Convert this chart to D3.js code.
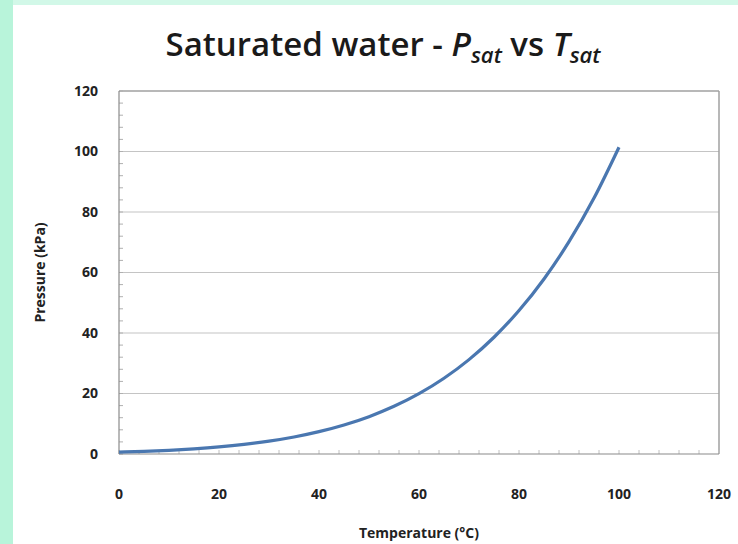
<!DOCTYPE html>
<html><head><meta charset="utf-8">
<script src="https://cdn.jsdelivr.net/npm/d3@7"></script>
<style>body{margin:0;background:#fff;}svg{display:block;}</style>
</head><body>
<svg id="c" width="738" height="544"></svg>
<script>
const temps = [0.01,5,10,15,20,25,30,35,40,45,50,55,60,65,70,75,80,85,90,95,100];
const pressures = [0.6117,0.8725,1.2281,1.7057,2.3392,3.1698,4.2469,5.6291,7.3851,9.5953,12.352,15.763,19.947,25.043,31.202,38.597,47.416,57.868,70.183,84.609,101.42];
const xTicks = [0,20,40,60,80,100,120];
const yTicks = [0,20,40,60,80,100,120];

const svg = d3.select("#c");
const W=738,H=544;
svg.append("rect").attr("width",W).attr("height",H).attr("fill","#fff");
svg.append("rect").attr("x",0).attr("y",0).attr("width",W).attr("height",5).attr("fill","#d2f8e8");
svg.append("rect").attr("x",0).attr("y",0).attr("width",13).attr("height",H).attr("fill","#b8f4da");

const m={l:119,r:719,t:91,b:454};
const x=d3.scaleLinear().domain([0,120]).range([m.l,m.r]);
const y=d3.scaleLinear().domain([0,120]).range([m.b,m.t]);
const font="'Open Sans', Lato, sans-serif";

// gridlines
svg.append("g").selectAll("line").data(yTicks.filter(d=>d>0)).join("line")
 .attr("x1",m.l).attr("x2",m.r).attr("y1",d=>y(d)).attr("y2",d=>y(d))
 .attr("stroke",d=>d===120?"#a0a0a0":"#c4c4c4").attr("stroke-width",d=>d===120?1.5:1.2);
// right border
svg.append("line").attr("x1",m.r).attr("x2",m.r).attr("y1",m.t).attr("y2",m.b).attr("stroke","#a0a0a0").attr("stroke-width",1.5);

// minor ticks
const minor=d3.range(0,121,4);
svg.append("g").selectAll("line").data(minor).join("line")
 .attr("x1",m.l).attr("x2",m.l+4).attr("y1",d=>y(d)).attr("y2",d=>y(d)).attr("stroke","#b0b0b0");
svg.append("g").selectAll("line").data(minor).join("line")
 .attr("y1",m.b).attr("y2",m.b-4).attr("x1",d=>x(d)).attr("x2",d=>x(d)).attr("stroke","#c0c0c0");

// axes lines
svg.append("line").attr("x1",m.l).attr("x2",m.l).attr("y1",m.t).attr("y2",m.b).attr("stroke","#8a8a8a").attr("stroke-width",1.2);
svg.append("line").attr("x1",m.l).attr("x2",m.r).attr("y1",m.b).attr("y2",m.b).attr("stroke","#8a8a8a").attr("stroke-width",1.2);

// tick labels
svg.append("g").selectAll("text").data(yTicks).join("text")
 .attr("x",m.l-21).attr("y",d=>y(d)).attr("dy","0.35em").attr("text-anchor","end")
 .attr("font-family",font).attr("font-weight","bold").attr("font-size",14).attr("fill","#222")
 .text(d=>d);
svg.append("g").selectAll("text").data(xTicks).join("text")
 .attr("x",d=>x(d)).attr("y",m.b+45).attr("text-anchor","middle")
 .attr("font-family",font).attr("font-weight","bold").attr("font-size",14).attr("fill","#222")
 .text(d=>d);

// curve
const line=d3.line().x((d,i)=>x(temps[i])).y((d,i)=>y(pressures[i])).curve(d3.curveMonotoneX);
svg.append("path").datum(pressures).attr("d",line).attr("fill","none")
 .attr("stroke","#4a77b0").attr("stroke-width",3.2);

// axis titles
svg.append("text").attr("x",x(60)).attr("y",538).attr("text-anchor","middle")
 .attr("font-family",font).attr("font-weight","bold").attr("font-size",14).attr("fill","#222")
 .text("Temperature (°C)");
svg.append("text").attr("transform",`translate(45,${y(60)}) rotate(-90)`).attr("text-anchor","middle")
 .attr("font-family",font).attr("font-weight","bold").attr("font-size",14).attr("fill","#222")
 .text("Pressure (kPa)");

// title
const t=svg.append("text").attr("x",383).attr("y",56).attr("text-anchor","middle")
 .attr("font-family",font).attr("font-weight",600).attr("font-size",33).attr("fill","#1a1a1a");
t.append("tspan").text("Saturated water - ");
t.append("tspan").attr("font-style","italic").text("P");
t.append("tspan").attr("font-style","italic").attr("font-size",22).attr("dy",7).text("sat");
t.append("tspan").attr("dy",-7).text(" vs ");
t.append("tspan").attr("font-style","italic").text("T");
t.append("tspan").attr("font-style","italic").attr("font-size",22).attr("dy",7).text("sat");
</script>
</body></html>
